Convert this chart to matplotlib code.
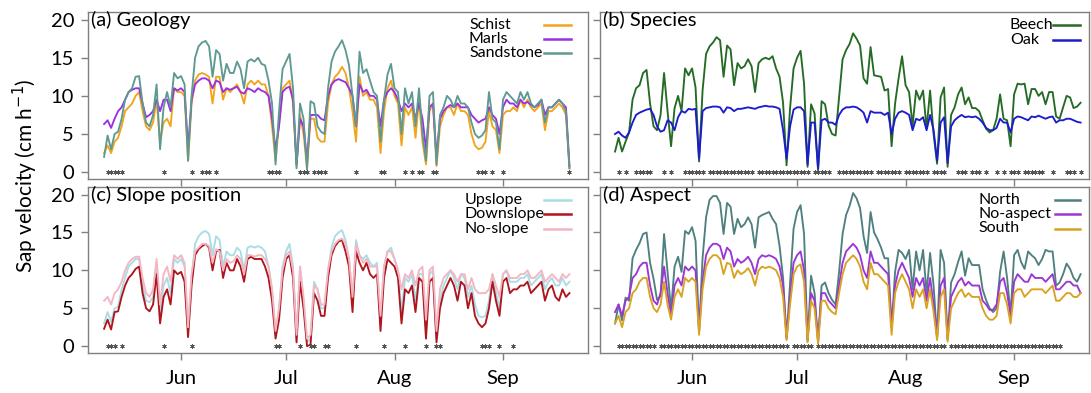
"""Daily sap velocity by geology, species, slope position and aspect (4 panels)."""

import matplotlib

matplotlib.use("Agg")
import matplotlib.dates as mdates
import matplotlib.pyplot as plt
import numpy as np

plt.rcParams["font.family"] = ["Lato", "DejaVu Sans"]

# one value per day, 10 May - 20 Sep
days = np.arange(np.datetime64("2015-05-10"), np.datetime64("2015-09-21"))

schist = [
    2.5, 3.5, 2.5, 4, 4.5, 6, 8, 8.5, 9, 10,
    10.5, 8, 6, 5.5, 6.5, 9.5, 4, 6.5, 7, 6,
    11, 10.5, 10.5, 10, 1.5, 9, 12, 12.8, 13, 12.8,
    12.5, 9, 12.5, 12.5, 9.5, 11, 10.5, 11, 11.5, 10.5,
    9, 11.5, 12, 11.5, 12, 11.5, 11.5, 10, 6, 1.5,
    6.5, 11, 11.5, 12, 9, 0.8, 7.5, 5, 0.5, 7,
    7, 4.5, 4, 4, 9, 11.5, 12.5, 13, 13.8, 13,
    11, 8, 4, 12.5, 10, 10.5, 9.5, 9.5, 8.5, 2.5,
    8, 11, 12, 10, 9, 3.5, 8.5, 7.5, 8.5, 4.5,
    9.5, 4, 1, 8, 9, 0.8, 6, 7.5, 8.5, 8.5,
    7.5, 9, 8, 8, 7.5, 5, 3.5, 3, 3.2, 4,
    8, 6, 5.5, 2.5, 7.5, 8, 8, 8.5, 8, 9.5,
    8.5, 9.5, 8.5, 8, 8.5, 9, 5.5, 8, 8, 8.5,
    9, 8.5, 7.5, 0.5,
]
marls = [
    6.3, 6.8, 5.8, 7, 8, 8.5, 9.5, 10.5, 10.8, 11,
    11, 9, 7.2, 7.5, 8, 9.5, 8, 9.5, 9.5, 8,
    11, 10.7, 11, 10.5, 3, 9.5, 11.5, 12, 12.3, 12.3,
    12, 11, 12, 11.8, 10.5, 11, 10.8, 11, 11.2, 10.5,
    10.3, 11, 10.8, 10.5, 11, 10.7, 10.5, 10, 7, 3,
    6, 10.5, 11, 11.2, 9.5, 1, 7, 6, 1.5, 7.5,
    7.5, 7.5, 7, 6.8, 10, 11.5, 12, 12.2, 12, 11.8,
    11, 10, 6, 11.5, 10.5, 10.8, 10, 10, 9.5, 6,
    9.5, 10.5, 11, 10.5, 9.5, 8, 9, 8.5, 9, 7,
    9, 7, 3, 8.5, 9, 2, 7, 8, 8.5, 8.8,
    8.5, 9, 8.5, 8.5, 8.5, 7.5, 7, 6.5, 6.8, 7,
    8.5, 7.5, 7, 5, 8.5, 9.5, 9, 9, 8.5, 9.5,
    9, 9.2, 8.8, 8.5, 8.8, 9.5, 7.5, 8.5, 8.5, 9,
    9.5, 9, 8.5, 0.8,
]
sandstone = [
    2, 4.8, 3, 5, 5.3, 7, 9.5, 10.5, 11, 12.5,
    12.6, 9, 6.5, 6, 7.5, 11.5, 3, 8.5, 10.5, 8.5,
    13, 12.3, 12.6, 11.5, 1.5, 10, 15, 16.5, 17, 17.2,
    16.5, 12.5, 16, 15.5, 12, 14.2, 13, 13, 14.5, 13.5,
    11, 14.5, 14.8, 14.5, 15, 14.2, 14, 12, 9, 1,
    8, 13.5, 14.5, 15.5, 11, 0.5, 9, 7, 0.3, 9.3,
    9, 6, 5.3, 5, 11, 14.5, 15.8, 16.5, 17.3, 16,
    14, 10, 6, 15.8, 13, 13.5, 12, 10.5, 10, 4,
    9.5, 12.8, 14.2, 11, 10.5, 5, 11, 9, 10.5, 6,
    11, 5, 1.5, 10, 10.5, 1, 7.5, 8.5, 10, 9.5,
    8.5, 10, 9, 9, 8.5, 6.5, 5, 4.5, 4.8, 5.5,
    10.5, 7, 6.5, 3, 9.5, 10.5, 10, 9.5, 9, 10.5,
    9.5, 10.5, 9, 8.5, 9, 9.5, 6.5, 8.5, 8.5, 9,
    9.5, 9, 8, 0.5,
]
beech = [
    2.7, 4.5, 2.7, 4, 5.2, 9.5, 11, 11.4, 13, 13.4,
    9, 6, 5.5, 7.5, 13, 8, 3.4, 8.4, 10, 8,
    13.6, 12.7, 13.6, 11.1, 1.4, 10.7, 15.5, 16.5, 17, 17.7,
    17.3, 12.5, 16.6, 16.1, 11.4, 14.3, 13.6, 13.9, 14.8, 13.9,
    10.5, 14.3, 14.8, 15, 14.8, 15.2, 13.6, 12.5, 9.1, 0.9,
    8.4, 13.6, 15, 15.9, 11.6, 0.7, 8.9, 7.7, 0.2, 9.3,
    8.9, 6.1, 5, 4.8, 9.8, 14.8, 16, 16.8, 18.2, 17.5,
    16.6, 12.3, 11.6, 16.4, 12.7, 12.6, 12.5, 10.7, 10.9, 3.4,
    9, 12.3, 15.2, 11.4, 10.5, 6.1, 10.7, 9.5, 10.7, 5.7,
    10.7, 5, 1.1, 9.8, 11.1, 0.7, 7.5, 8.5, 10.2, 11.1,
    8.9, 9.8, 8.4, 8.4, 8, 6.8, 5.7, 5.2, 5.5, 7,
    10.2, 7, 6.8, 3.4, 10.2, 11.6, 11.5, 11.6, 8.9, 10.9,
    10.9, 10, 10.5, 8.9, 10.5, 10.5, 7.3, 7, 8.5, 10,
    9.8, 8.4, 8.6, 9.1,
]
oak = [
    5, 5.3, 4.8, 4.5, 5.2, 6.5, 7.5, 7.8, 8, 8.2,
    8.3, 7.5, 6, 5.3, 5.5, 6.8, 6.5, 5.5, 7.2, 8,
    7.8, 8.3, 8.2, 8.3, 1.8, 8, 8.4, 8.5, 8.6, 8.6,
    8.5, 7.8, 8.5, 8.4, 8, 8.3, 8.3, 8.4, 8.5, 8.4,
    8.3, 8.5, 8.6, 8.7, 8.6, 8.6, 8.5, 8.3, 5.5, 1.8,
    6, 8.2, 8.5, 8.5, 8, 1, 6.5, 6.5, 0.5, 6.8,
    7, 6.5, 6.5, 6.2, 7.5, 8.2, 8.5, 8.5, 8.6, 8.5,
    8.2, 7.8, 6.5, 8, 7.8, 7.8, 7.8, 7.5, 7.8, 5,
    7, 7.8, 8, 7.8, 7.5, 5.5, 7, 6.8, 7.2, 5.5,
    7.5, 5.5, 1.5, 6.5, 7.2, 1.2, 6, 6.8, 7.2, 7.5,
    7.2, 7.3, 7.2, 7.3, 7, 6.5, 5.8, 5.5, 5.5, 5.8,
    7, 6.5, 6.5, 5.2, 7, 7.3, 7.2, 7, 6.8, 7.3,
    7.2, 7.4, 7.2, 7, 7.2, 7.3, 6.5, 6.8, 6.8, 7,
    7, 6.8, 6.6, 6.5,
]
upslope = [
    3, 4.5, 3.2, 5, 5.2, 7.5, 9, 10.5, 11, 11.5,
    11.5, 8, 6, 5.8, 6.5, 11, 4, 8, 9, 7,
    11.5, 11, 11.5, 10.5, 2, 9, 13.5, 14.5, 15, 15.2,
    14.8, 12, 14.5, 14, 10.5, 12.5, 12, 12, 13, 12.5,
    10, 13, 13.2, 13, 13.2, 13, 12.5, 10.5, 7.5, 1.5,
    5, 10.5, 12.5, 13.5, 10.5, 1, 10.5, 6, 0.5, 1,
    8.5, 7.5, 5, 5, 10, 13, 14.5, 15, 15.3, 14,
    11.5, 6, 14, 12, 11.5, 12, 11, 10.5, 11, 3,
    10.5, 12.5, 13, 11.5, 10, 4.5, 9, 8.5, 9.5, 6,
    9.5, 9.5, 2, 9.5, 10, 1, 6, 8, 9, 10,
    9, 7.5, 9.5, 9, 6.5, 8, 5.5, 4, 3.8, 4,
    6, 9.5, 7, 5, 9.5, 10, 8.5, 8.5, 8.5, 9,
    9, 9.5, 8, 8.5, 9, 9.5, 7.5, 8.5, 9, 8,
    8, 9, 8, 8.5,
]
downslope = [
    2.3, 3.5, 2.2, 4.5, 4.6, 6.5, 8, 9, 9.5, 10.2,
    10.5, 7, 5, 4.6, 5.5, 9.5, 3, 6.5, 7.5, 5.5,
    10, 9.5, 9.8, 8.5, 1.2, 8, 12, 12.8, 13.2, 13.5,
    13, 10, 12.5, 12.7, 9, 11, 10, 10, 11.5, 10.5,
    8.5, 11.5, 11.8, 11.5, 11.5, 11.5, 10.5, 9, 6, 1,
    3.5, 9, 11.5, 12, 9, 0.5, 8.5, 5, 0, 0.2,
    7, 6, 4, 4, 9, 12, 13.2, 13.8, 14, 12.5,
    10.5, 4.5, 12.5, 11, 10, 11, 9.5, 9, 9.5, 2,
    9, 11.5, 11, 10.5, 9, 3, 7.5, 7, 8, 4.5,
    9, 8.5, 1, 8.5, 9, 0.5, 5, 7, 8, 9,
    8, 6, 8.5, 8, 5, 7, 4, 3, 2.5, 3,
    5, 8.5, 6, 4, 8.5, 9, 7, 7.5, 7.5, 8,
    8, 8.5, 7, 7.5, 8, 8.5, 6, 7.5, 8, 6.5,
    6, 7.5, 6.5, 7,
]
noslope = [
    6, 6.5, 5.5, 7, 7.5, 8.5, 10, 11, 11.5, 11.8,
    11.8, 9, 7, 6.5, 7.5, 11.5, 5.5, 9.5, 10.5, 8.5,
    12, 11.5, 12, 11, 2.5, 9.5, 12.5, 13, 13.5, 13.5,
    13.2, 11, 12.8, 12.5, 10, 11.5, 11, 11.2, 12, 11.5,
    9.5, 12, 12, 11.8, 12, 12, 11.5, 10.5, 7.5, 2,
    5, 10, 12, 12.5, 10, 1.5, 10.5, 6.5, 1, 1.5,
    8, 7.5, 5.5, 5.5, 10, 12.5, 13.5, 14, 14.2, 13.5,
    11.5, 6.5, 13.5, 12, 11, 11.5, 10.5, 10.5, 10.5, 4,
    10.5, 12.5, 12.5, 11.5, 10, 7.5, 9.5, 9, 10, 8,
    10, 10.5, 3.5, 10, 10.5, 2, 7.5, 9, 9.5, 10,
    9.5, 8.5, 9.5, 9.5, 7.5, 9, 7.5, 7, 7, 7,
    7.5, 9.5, 8, 6.5, 9.5, 10, 9, 9, 9, 9.5,
    9.5, 10, 9, 9, 9.5, 10, 8.5, 9, 9.5, 9,
    8.5, 9.5, 9, 9.5,
]
north = [
    3, 5.5, 3.4, 6.4, 6, 11.6, 12.7, 13.6, 14.8, 15,
    11, 8.9, 6.1, 6.6, 14.8, 9.8, 4.8, 10.5, 11.8, 9.8,
    15.2, 14.8, 15.7, 13.9, 2, 11.6, 17, 19.3, 19.8, 19.8,
    18.9, 14.8, 18.9, 18.4, 14.8, 16.8, 15.7, 16.1, 17, 16.1,
    13, 17, 17.3, 17.5, 17.7, 16.8, 16.1, 13.2, 9, 1.1,
    8.4, 15.5, 17.7, 18.6, 14.8, 0.7, 9.3, 7, 0.5, 8,
    8.4, 7, 6.1, 5.5, 9.8, 14.8, 17.3, 18.5, 20.2, 19.5,
    18.2, 14.5, 12.3, 17.7, 15, 14.1, 13, 11.6, 11.6, 2.5,
    9.8, 12.7, 12.3, 11.5, 12.7, 7.5, 12.5, 10, 12.7, 7,
    12.3, 8, 1.1, 12.7, 11, 0.9, 8.4, 9.5, 11.1, 12.5,
    9.3, 11.6, 10.7, 10.7, 10.7, 7.5, 6.1, 5, 4.5, 5,
    9.8, 12.5, 9, 4.2, 12, 12.7, 11.1, 10.2, 12.5, 12,
    11.6, 10.7, 11.5, 12.7, 12.5, 12.5, 8, 8.4, 9.5, 10.9,
    10.2, 9, 8.5, 9.5,
]
no_aspect = [
    4.5, 5.5, 4, 6, 6.5, 9, 9.5, 10.5, 11, 11,
    8, 6, 5.5, 7, 10.5, 7, 4, 8, 9, 8,
    10.5, 10, 10.5, 10, 2, 8.5, 12, 13, 13.5, 13.5,
    13.2, 11.5, 13, 12.5, 10.5, 11.5, 11, 11.3, 11.8, 11,
    9.5, 11.5, 12, 11.8, 12, 11.8, 11.5, 10.5, 8, 1,
    6.5, 11, 12, 12.5, 10, 0.8, 7, 6, 0.7, 7,
    7, 6, 5.5, 5, 8, 11, 12.5, 13, 13.5, 13,
    12, 10, 9, 12.5, 11, 11, 10.5, 10, 9.5, 2.5,
    8, 10, 11, 10, 9, 6.5, 9, 8, 9, 6,
    9, 5.5, 1.2, 8, 9, 1, 6.5, 7.5, 8.5, 9,
    8, 8.5, 8, 8, 8, 6, 5.5, 4.8, 4.8, 5.5,
    8.5, 9, 7, 4, 8.5, 9.5, 9, 8.5, 8.5, 9.5,
    9, 9, 9, 8.5, 9, 9.5, 7.5, 7.5, 8, 8.5,
    8.5, 8, 8, 7,
]
south = [
    3, 4, 2.5, 4.5, 5, 7, 7.5, 8.5, 9, 9,
    6.5, 5, 4.5, 5.5, 8.5, 5.5, 3.5, 6.5, 7.5, 6.5,
    9, 8.5, 9, 8.5, 1.5, 7.5, 10.5, 11.5, 12, 12,
    11.5, 9.5, 11, 10.8, 9, 10, 9.5, 9.8, 10.3, 9.5,
    8, 10, 10.5, 10.3, 10.5, 10.3, 10, 9, 6.5, 0.8,
    5.5, 9.5, 10.5, 10.8, 8.5, 0.5, 6, 5, 0.3, 6,
    6, 5, 4.5, 4.2, 7, 9.5, 11, 11.5, 12, 11.5,
    10.5, 8.5, 7.5, 11, 9.5, 9.5, 9, 8.5, 8, 1.5,
    7, 8.5, 9.5, 8.5, 7.5, 5, 7.5, 6.5, 7.5, 5,
    7.5, 4.5, 0.8, 6.5, 7.5, 0.6, 5, 6, 7, 7.5,
    6.5, 7, 6.5, 6.5, 6.5, 5, 4, 3.5, 3.5, 4,
    7, 7, 5.5, 3, 7, 7.5, 7.5, 6.5, 7, 7.5,
    7.5, 7.5, 7.5, 7, 7.5, 8, 6, 6, 6.5, 7,
    7, 6.5, 6.5, 7,
]

# day indices (0 = 10 May) flagged with a significance asterisk
sig_geology = [1, 2, 3, 4, 5, 17, 25, 28, 29, 30, 32, 47, 48, 49, 50, 56, 57, 58,
               60, 61, 62, 63, 72, 79, 80, 86, 88, 90, 91, 94, 95, 107, 108, 109,
               111, 114, 133]
sig_species = ([1, 3] + list(range(6, 11)) + [14, 16] + list(range(20, 26))
               + list(range(27, 40)) + list(range(41, 56)) + list(range(57, 62))
               + list(range(64, 74)) + list(range(75, 82)) + list(range(83, 90))
               + list(range(91, 95)) + [98, 99, 100, 102, 103, 104, 106, 109, 111,
                                        113, 114, 115] + list(range(117, 123))
               + [125, 129, 130, 131, 133])
sig_slope = [1, 2, 3, 5, 17, 25, 49, 50, 56, 59, 60, 63, 64, 72, 80, 86, 92, 95,
             96, 108, 109, 110, 113, 117]
sig_aspect = (list(range(1, 12)) + list(range(13, 50)) + list(range(51, 57))
              + list(range(58, 95)) + list(range(96, 128)))

panels = [
    ("(a) Geology", ["Schist", "Marls", "Sandstone"], [schist, marls, sandstone],
     ["#f2a41c", "#9b30e0", "#5e9993"], sig_geology),
    ("(b) Species", ["Beech", "Oak"], [beech, oak],
     ["#256b25", "#1c1ccc"], sig_species),
    ("(c) Slope position", ["Upslope", "Downslope", "No-slope"],
     [upslope, downslope, noslope],
     ["#a8dde6", "#b0141c", "#f3b6c2"], sig_slope),
    ("(d) Aspect", ["North", "No-aspect", "South"], [north, no_aspect, south],
     ["#4f8080", "#9b35d6", "#d9a321"], sig_aspect),
]

W, H = 1091, 393
fig = plt.figure(figsize=(W / 100, H / 100), dpi=100)
# axes boxes in pixels: left, top, width, height
boxes = [
    (88, 12, 500, 167),
    (600, 12, 489, 167),
    (88, 187, 500, 166),
    (600, 187, 489, 166),
]
# legend layout in axes fractions: text x, line x0, line x1, row ys
legend_layout = [
    (0.762, 0.912, 0.966, [0.924, 0.838, 0.752]),
    (0.838, 0.926, 0.982, [0.922, 0.832]),
    (0.754, 0.912, 0.966, [0.924, 0.838, 0.750]),
    (0.775, 0.930, 0.982, [0.924, 0.838, 0.750]),
]
jun1 = mdates.date2num(np.datetime64("2015-06-01"))
xspans = [(26.6, 116.3), (26.3, 113.4), (26.6, 116.3), (26.3, 113.4)]
month_ticks = [np.datetime64(d) for d in ("2015-06-01", "2015-07-01", "2015-08-01", "2015-09-01")]
grey = "#7f7f7f"

for i, (title, labels, series, colors, sig) in enumerate(panels):
    left, top, width, height = boxes[i]
    ax = fig.add_axes([left / W, (H - top - height) / H, width / W, height / H])
    for lab, vals, col in zip(labels, series, colors):
        ax.plot(days, vals, color=col, linewidth=1.35, label=lab)
    sig_days = days[np.array(sig)]
    ax.plot(sig_days, np.zeros(len(sig_days)), linestyle="none", marker=(6, 2, 0),
            markersize=3.2, markeredgewidth=0.55, color="#555555")

    lo, hi = xspans[i]
    ax.set_xlim(jun1 - lo, jun1 + hi)
    ax.set_ylim(-0.9, 21.0)
    ax.set_yticks([0, 5, 10, 15, 20])
    ax.set_xticks(month_ticks)
    ax.xaxis.set_major_formatter(mdates.DateFormatter("%b"))
    ax.tick_params(direction="out", length=5, width=1, color=grey, labelsize=14.5, pad=5)
    if i < 2:
        ax.tick_params(axis="x", labelbottom=False)
    else:
        ax.tick_params(axis="x", pad=7)
    if i % 2 == 1:
        ax.tick_params(axis="y", labelleft=False)
    for spine in ax.spines.values():
        spine.set_color(grey)
        spine.set_linewidth(1.0)

    ax.annotate(title, xy=(0, 1), xycoords="axes fraction", xytext=(2, 1),
                textcoords="offset points", ha="left", va="top", fontsize=14.5)

    # legend: left-aligned labels with the line keys to their right
    tx, lx0, lx1, rows = legend_layout[i]
    for lab, col, ry in zip(labels, colors, rows):
        ax.text(tx, ry, lab, transform=ax.transAxes, ha="left", va="center", fontsize=11.5)
        ax.plot([lx0, lx1], [ry, ry], transform=ax.transAxes, color=col,
                linewidth=1.8, clip_on=False)

fig.text(25 / W, (H - 176) / H, "Sap velocity (cm h$^{-1}$)", rotation=90,
         ha="center", va="center", fontsize=15)

fig.savefig("out.png", dpi=100)
plt.close(fig)
